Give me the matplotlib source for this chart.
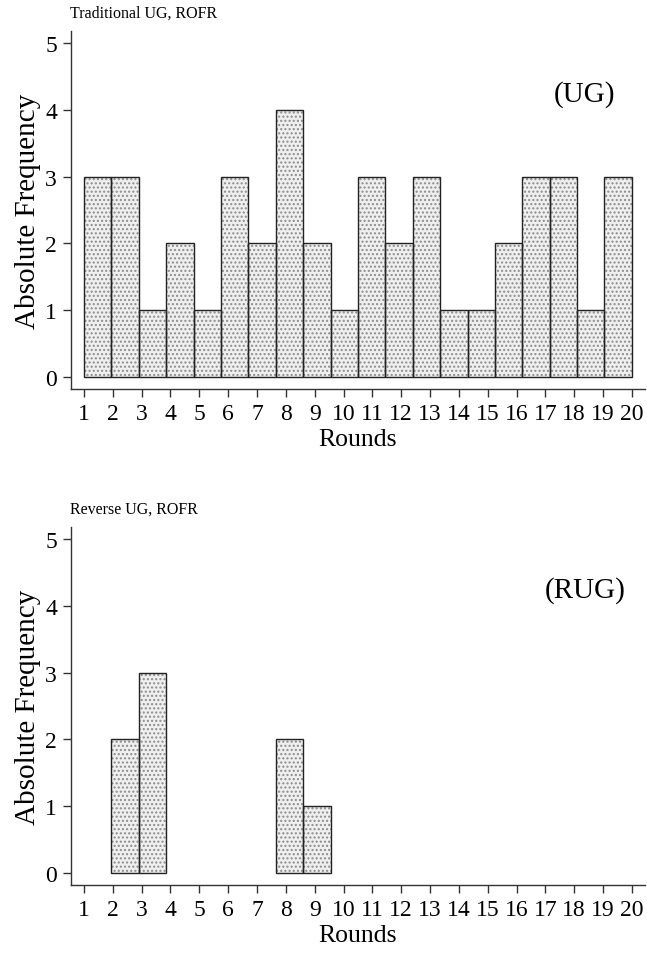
import numpy as np
import matplotlib
matplotlib.use("Agg")
import matplotlib.pyplot as plt

rounds = list(range(1, 21))
ug_freq = [3, 3, 1, 2, 1, 3, 2, 4, 2, 1, 3, 2, 3, 1, 1, 2, 3, 3, 1, 3]
rug_freq = [0, 2, 3, 0, 0, 0, 0, 2, 1, 0, 0, 0, 0, 0, 0, 0, 0, 0, 0, 0]

titles = ["Traditional UG, ROFR", "Reverse UG, ROFR"]
tags = ["(UG)", "(RUG)"]

plt.rcParams["font.family"] = ["Liberation Serif", "DejaVu Serif"]

fig = plt.figure(figsize=(6.47, 9.54), dpi=100)
ax_top = fig.add_axes([0.1097, 0.5912, 0.887, 0.3753])
ax_bot = fig.add_axes([0.1097, 0.0713, 0.887, 0.3753])

# 20 bins spanning rounds 1..20
edges = np.linspace(1, 20, 21)
lefts = edges[:-1]
width = edges[1] - edges[0]

for ax, freq, title, tag in zip([ax_top, ax_bot], [ug_freq, rug_freq], titles, tags):
    freq = np.array(freq)
    m = freq > 0
    ax.bar(lefts[m], freq[m], width=width, align="edge", color="#efefef",
           edgecolor="#8c8c8c", hatch="....", linewidth=0)
    ax.bar(lefts[m], freq[m], width=width, align="edge", fill=False,
           edgecolor="#222222", linewidth=1.0)
    ax.set_xlim(0.55, 20.45)
    ax.set_ylim(-0.18, 5.18)
    ax.set_xticks(rounds)
    ax.set_yticks(range(6))
    ax.spines["top"].set_visible(False)
    ax.spines["right"].set_visible(False)
    for s in ["left", "bottom"]:
        ax.spines[s].set_color("#333333")
        ax.spines[s].set_linewidth(1.0)
    ax.tick_params(axis="both", labelsize=17, length=6, width=1.0, color="#333333", pad=4)
    ax.set_xlabel("Rounds", fontsize=18.5, labelpad=3)
    ax.set_ylabel("Absolute Frequency", fontsize=21, labelpad=3)
    ax.set_title(title, fontsize=11.5, loc="left", x=-0.002, pad=10)
    ax.text(18.37, 4.24, tag, fontsize=21, ha="center", va="center")

fig.savefig("out.png", dpi=100)
